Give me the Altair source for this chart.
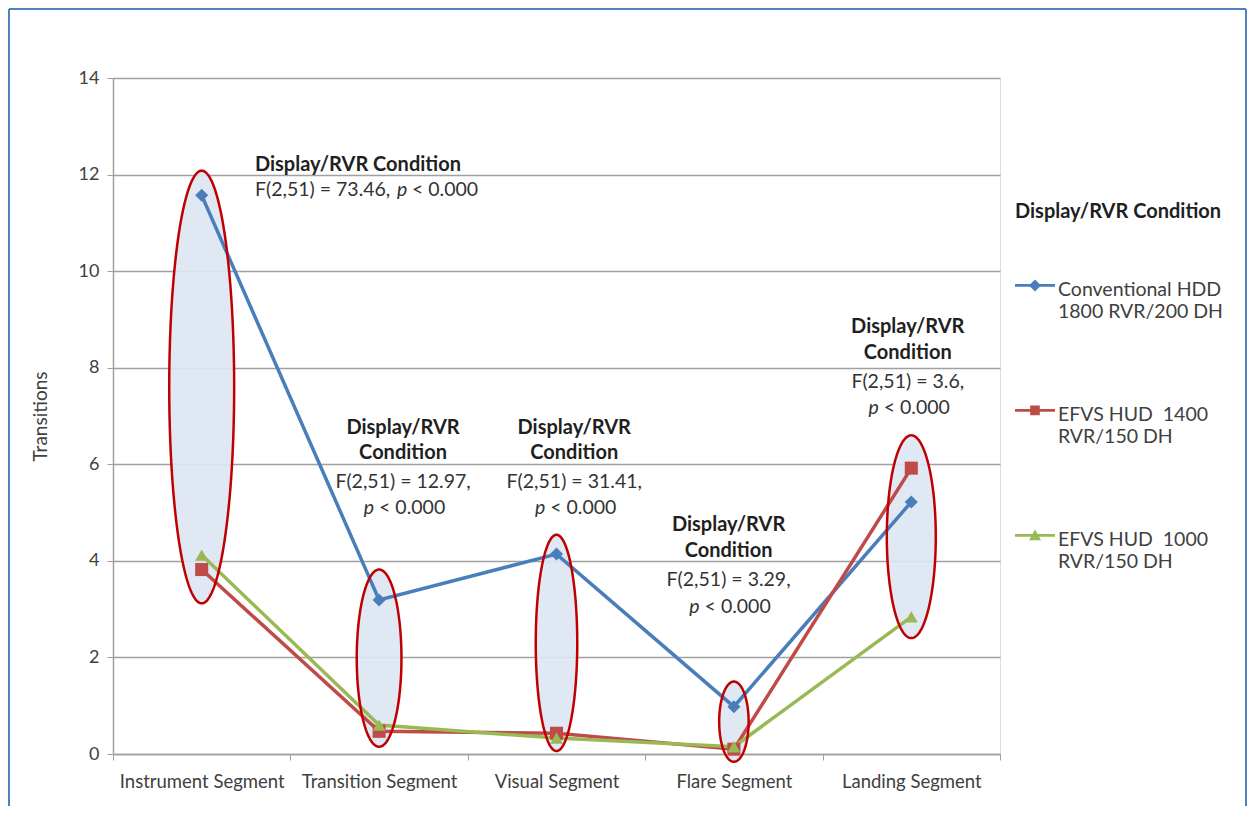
import altair as alt
import numpy as np
import pandas as pd

# ---------------- data ----------------
segments = ["Instrument Segment", "Transition Segment", "Visual Segment",
            "Flare Segment", "Landing Segment"]
series = ["Conventional HDD 1800 RVR/200 DH",
          "EFVS HUD 1400 RVR/150 DH",
          "EFVS HUD 1000 RVR/150 DH"]
conventional_hdd = [11.57, 3.19, 4.14, 0.98, 5.22]
efvs_hud_1400 = [3.82, 0.47, 0.43, 0.10, 5.92]
efvs_hud_1000 = [4.12, 0.60, 0.33, 0.15, 2.84]
legend_lines = [["Conventional HDD", "1800 RVR/200 DH"],
                ["EFVS HUD \u00a01400", "RVR/150 DH"],
                ["EFVS HUD \u00a01000", "RVR/150 DH"]]

# ellipses highlighting each segment (value range and half width in segment units)
ellipse_top = [12.08, 3.82, 4.54, 1.50, 6.60]
ellipse_bottom = [3.12, 0.15, 0.06, -0.16, 2.40]
ellipse_halfwidth = [0.183, 0.126, 0.117, 0.083, 0.138]

# annotations
heading_lines = ["Display/RVR", "Condition"]
stat_texts = ["F(2,51) = 73.46,", "F(2,51) = 12.97,", "F(2,51) = 31.41,",
              "F(2,51) = 3.29,", "F(2,51) = 3.6,"]
p_letter = "p"
p_rest = "< 0.000"
ann_x = [0.30, 1.135, 2.10, 2.97, 3.98]
ann_y = [[12.20, 11.69],
         [6.745, 6.227, 5.639, 5.088],
         [6.745, 6.227, 5.639, 5.088],
         [4.743, 4.210, 3.604, 3.044],
         [8.849, 8.311, 7.710, 7.159]]

# ---------------- styles ----------------
series_colors = ["#4a7ebb", "#be4b48", "#98b954"]
marker_shapes = ["diamond", "square", "triangle-up"]
FONT = "Lato"
sh = 0.22
bar = f"M-1,{sh-0.07:.3f}L1,{sh-0.07:.3f}L1,{sh+0.07:.3f}L-1,{sh+0.07:.3f}Z"
legend_paths = [
    bar + f"M0,{sh-0.3:.3f}L0.3,{sh:.3f}L0,{sh+0.3:.3f}L-0.3,{sh:.3f}Z",
    bar + f"M-0.24,{sh-0.24:.3f}L0.24,{sh-0.24:.3f}L0.24,{sh+0.24:.3f}L-0.24,{sh+0.24:.3f}Z",
    bar + f"M0,{sh-0.3:.3f}L0.3,{sh+0.24:.3f}L-0.3,{sh+0.24:.3f}Z",
]

# ---------------- tables ----------------
vals = [conventional_hdd, efvs_hud_1400, efvs_hud_1000]
df = pd.DataFrame([
    {"series": s, "pos": i, "value": v[i]}
    for s, v in zip(series, vals) for i in range(len(segments))
])
df_series = pd.DataFrame({"series": series})

t = np.linspace(0, np.pi, 91)
ell_rows = []
for i, (top, bot, hw) in enumerate(zip(ellipse_top, ellipse_bottom, ellipse_halfwidth)):
    cy, b = (top + bot) / 2, (top - bot) / 2
    for tt in t:
        ell_rows.append({"ell": i, "pos": i + hw * np.cos(tt),
                         "value": cy + b * np.sin(tt), "value2": cy - b * np.sin(tt)})
df_ell = pd.DataFrame(ell_rows)

# ---------------- scales / axes ----------------
xscale = alt.Scale(domain=[-0.5, 4.5], nice=False, zero=False)
yscale = alt.Scale(domain=[0, 14], nice=False, zero=False)
label_expr = "[" + ",".join(f"'{s}'" for s in segments) + "][round(datum.value + 0.5)] || ''"
xaxis = alt.Axis(values=[-0.5, 0.5, 1.5, 2.5, 3.5, 4.5], labelExpr=label_expr,
                 labelOffset=88.7, title=None, grid=False, tickSize=6,
                 labelPadding=12, labelFlush=False, labelOverlap=False,
                 domainColor="#a0a0a0", tickColor="#a0a0a0", domainWidth=1.5,
                 labelFont=FONT, labelFontSize=18.5, labelColor="#404040")
yaxis = alt.Axis(values=list(range(0, 15, 2)), title="Transitions", grid=True,
                 gridColor="#a0a0a0", gridWidth=1.5, tickSize=6, tickColor="#a0a0a0",
                 domainColor="#a0a0a0", domainWidth=1.5, labelPadding=8,
                 labelFont=FONT, labelFontSize=18, labelColor="#404040",
                 titleFont=FONT, titleFontSize=19, titleFontWeight="normal",
                 titleColor="#404040", titlePadding=28)


def X(f="pos"):
    return alt.X(f"{f}:Q", scale=xscale, axis=xaxis)


def Y(f="value"):
    return alt.Y(f"{f}:Q", scale=yscale, axis=yaxis)


color_scale = alt.Scale(domain=series, range=series_colors)

# ---------------- layers ----------------
ell_fill = alt.Chart(df_ell).mark_area(color="#dce6f2", opacity=0.9).encode(
    x=X(), y=Y(), y2="value2:Q", detail="ell:N")

lines = alt.Chart(df).mark_line(strokeWidth=3.5).encode(
    x=X(), y=Y(), color=alt.Color("series:N", scale=color_scale, legend=None),
    detail="series:N")

markers = alt.Chart(df).mark_point(filled=True, size=170, opacity=1).encode(
    x=X(), y=Y(), color=alt.Color("series:N", scale=color_scale, legend=None),
    shape=alt.Shape("series:N", scale=alt.Scale(domain=series, range=marker_shapes), legend=None))

ell_line = alt.Chart(df_ell).mark_area(fillOpacity=0, stroke="#c00000", strokeWidth=2.5).encode(
    x=X(), y=Y(), y2="value2:Q", detail="ell:N")

# text tables
bold_left = pd.DataFrame([{"pos": ann_x[0], "value": ann_y[0][0], "text": " ".join(heading_lines)}])
normal_left = pd.DataFrame([{"pos": ann_x[0], "value": ann_y[0][1], "text": stat_texts[0]}])
bold_center = pd.DataFrame([{"pos": ann_x[i], "value": ann_y[i][k], "text": heading_lines[k]}
                            for i in range(1, 5) for k in range(2)])
normal_center = pd.DataFrame([{"pos": ann_x[i], "value": ann_y[i][2], "text": stat_texts[i]}
                              for i in range(1, 5)])
p_center = pd.DataFrame([{"pos": ann_x[i], "value": ann_y[i][3], "text": p_letter} for i in range(1, 5)])
rest_center = pd.DataFrame([{"pos": ann_x[i], "value": ann_y[i][3], "text": p_rest} for i in range(1, 5)])
p_left = pd.DataFrame([{"pos": ann_x[0], "value": ann_y[0][1], "text": p_letter}])
rest_left = pd.DataFrame([{"pos": ann_x[0], "value": ann_y[0][1], "text": p_rest}])


def txt(d, **kw):
    base = dict(font=FONT, baseline="middle")
    base.update(kw)
    return alt.Chart(d).mark_text(**base).encode(x=X(), y=Y(), text="text:N")


NFS = 19.5
BFS = 20
texts = [
    txt(bold_left, align="left", fontSize=BFS, fontWeight="bold", color="#1f1f1f"),
    txt(normal_left, align="left", fontSize=NFS, color="#333333"),
    txt(p_left, align="left", fontSize=NFS, fontStyle="italic", color="#333333", dx=142),
    txt(rest_left, align="left", fontSize=NFS, color="#333333", dx=157),
    txt(bold_center, align="center", fontSize=BFS, fontWeight="bold", color="#1f1f1f"),
    txt(normal_center, align="center", fontSize=NFS, color="#333333"),
    txt(p_center, align="right", fontSize=NFS, fontStyle="italic", color="#333333", dx=-29),
    txt(rest_center, align="left", fontSize=NFS, color="#333333", dx=-24),
]

leg_expr = " : ".join(
    f"datum.label == '{s}' ? ['{a}', '{b}']" for s, (a, b) in zip(series[:-1], legend_lines[:-1])
) + f" : ['{legend_lines[-1][0]}', '{legend_lines[-1][1]}']"

legend = alt.Legend(title="Display/RVR Condition", orient="none", legendX=902, legendY=124,
                    direction="vertical", padding=0, titleLimit=400,
                    titleFont=FONT, titleFontSize=BFS, titleFontWeight="bold", titleColor="#1f1f1f",
                    titlePadding=39, labelFont=FONT, labelFontSize=19.5, labelColor="#404040",
                    labelBaseline="top", labelOffset=3, labelLimit=300, labelExpr=leg_expr,
                    symbolSize=1600, symbolStrokeWidth=0, symbolOpacity=1, rowPadding=65)

legend_layer = alt.Chart(df_series).mark_point(filled=True, opacity=0).encode(
    x=alt.value(0), y=alt.value(0),
    color=alt.Color("series:N", scale=color_scale, legend=legend),
    shape=alt.Shape("series:N", scale=alt.Scale(domain=series, range=legend_paths), legend=legend))

frame_df = pd.DataFrame({"k": [0]})
frame_color = "#4f81bd"
frame = [
    alt.Chart(frame_df).mark_rule(color=frame_color, strokeWidth=2).encode(
        x=alt.value(-104), x2=alt.value(1133), y=alt.value(-69)),
    alt.Chart(frame_df).mark_rule(color=frame_color, strokeWidth=2).encode(
        x=alt.value(-104), y=alt.value(-69), y2=alt.value(740)),
    alt.Chart(frame_df).mark_rule(color=frame_color, strokeWidth=2).encode(
        x=alt.value(1133), y=alt.value(-69), y2=alt.value(740)),
]

chart = alt.layer(ell_fill, lines, markers, ell_line, *texts, legend_layer, *frame).resolve_scale(
    shape="independent", color="independent"
).properties(
    width=887, height=676,
    autosize=alt.AutoSizeParams(type="none"),
    padding={"left": 105, "top": 70, "right": 247, "bottom": 52},
).configure_view(stroke=None).configure(background="white")

chart.save("out.html", embed_options={"renderer": "svg", "actions": False})
